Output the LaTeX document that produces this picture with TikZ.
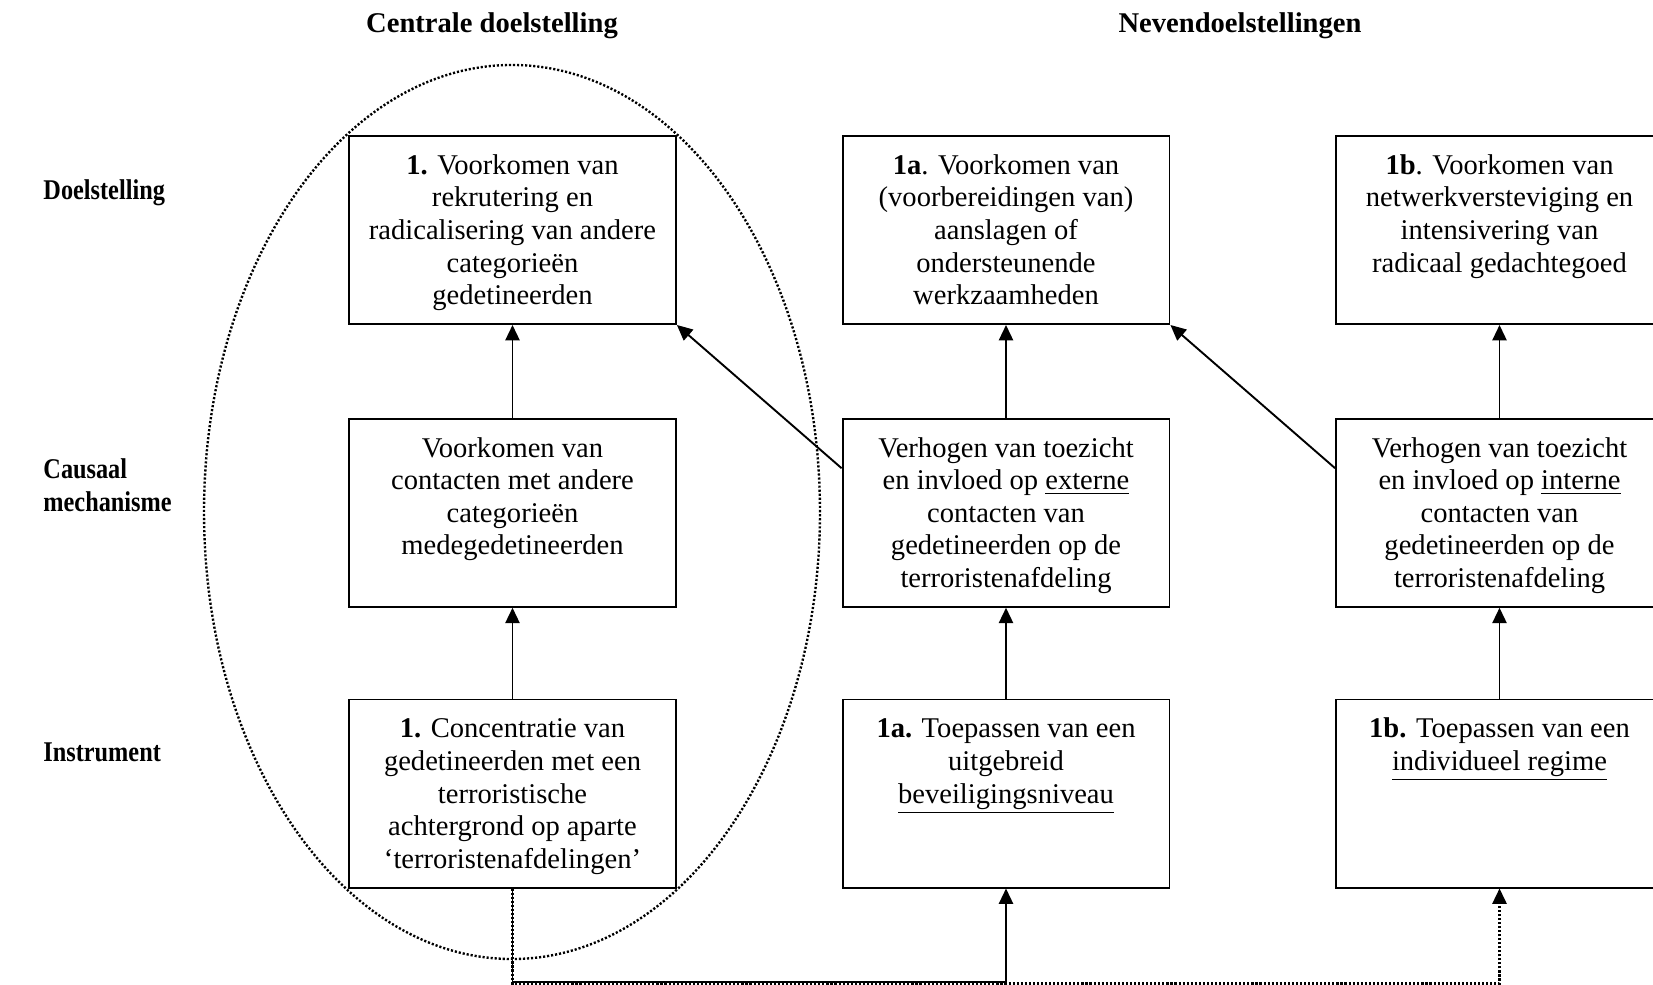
\documentclass[tikz,border=0pt]{standalone}
\usepackage{fontspec}
\setmainfont{Liberation Serif}
\newfontfamily\lblfont{Liberation Serif}[FakeStretch=0.85]
\usetikzlibrary{arrows.meta,shapes.geometric}
\begin{document}
\begin{tikzpicture}[x=0.42pt,y=-0.42pt,
  every node/.style={font=\fontsize{12}{13.7}\selectfont},
  box/.style={draw,line width=0.8pt,rectangle,minimum width=137.3pt,minimum height=79pt,inner sep=0pt},
  txt/.style={align=center,inner sep=0pt,anchor=north},
  lbl/.style={anchor=west,inner sep=0pt,font=\fontsize{12}{13.7}\selectfont\lblfont\bfseries},
  hdr/.style={anchor=base,inner sep=0pt,font=\fontsize{12}{13.7}\selectfont\bfseries},
  arr/.style={line width=0.8pt,-{Triangle[length=6.5pt,width=6pt]}},
  dots/.style={dash pattern=on 0.9pt off 0.8pt},
]
\useasboundingbox (0,0) rectangle (1653,985);
\clip (0,0) rectangle (1653,985);

% headers
\node[hdr] (h1) at (492,33) {Centrale doelstelling};
\node[hdr] (h2) at (1240,33) {Nevendoelstellingen};

% row labels
\node[lbl] (r1) at (43,193) {Doelstelling};
\node[lbl,align=left] (r2) at (43,485) {Causaal\\mechanisme};
\node[lbl] (r3) at (43,752) {Instrument};

% ellipse
\node[ellipse,draw,line width=1pt,dots,minimum width=258.7pt,minimum height=375.5pt,inner sep=0pt] (ell) at (512,512) {};

% boxes
\node[box] (b11) at (512.5,230) {};
\node[box] (b12) at (512.5,512.75) {};
\node[box] (b13) at (512.5,793.5) {};
\node[box] (b21) at (1006,230) {};
\node[box] (b22) at (1006,512.75) {};
\node[box] (b23) at (1006,793.5) {};
\node[box] (b31) at (1499.5,230) {};
\node[box] (b32) at (1499.5,512.75) {};
\node[box] (b33) at (1499.5,793.5) {};

% texts
\node[txt] (t11) at ([yshift=-6.7pt]b11.north) {\strut\textbf{1.} Voorkomen van\\rekrutering en\\radicalisering van andere\\categorieën\\gedetineerden};
\node[txt] (t12) at ([yshift=-6.7pt]b12.north) {\strut Voorkomen van\\contacten met andere\\categorieën\\medegedetineerden};
\node[txt] (t13) at ([yshift=-6.7pt]b13.north) {\strut\textbf{1.} Concentratie van\\gedetineerden met een\\terroristische\\achtergrond op aparte\\‘terroristenafdelingen’};
\node[txt] (t21) at ([yshift=-6.7pt]b21.north) {\strut\textbf{1a}. Voorkomen van\\(voorbereidingen van)\\aanslagen of\\ondersteunende\\werkzaamheden};
\node[txt] (t22) at ([yshift=-6.7pt]b22.north) {\strut Verhogen van toezicht\\en invloed op \underline{externe}\\contacten van\\gedetineerden op de\\terroristenafdeling};
\node[txt] (t23) at ([yshift=-6.7pt]b23.north) {\strut\textbf{1a.} Toepassen van een\\uitgebreid\\\underline{beveiligingsniveau}};
\node[txt] (t31) at ([yshift=-6.7pt]b31.north) {\strut\textbf{1b}. Voorkomen van\\netwerkversteviging en\\intensivering van\\radicaal gedachtegoed};
\node[txt] (t32) at ([yshift=-6.7pt]b32.north) {\strut Verhogen van toezicht\\en invloed op \underline{interne}\\contacten van\\gedetineerden op de\\terroristenafdeling};
\node[txt] (t33) at ([yshift=-6.7pt]b33.north) {\strut\textbf{1b.} Toepassen van een\\\underline{individueel regime}};

% vertical arrows
\draw[arr] (b12) -- (b11);
\draw[arr] (b13) -- (b12);
\draw[arr] (b22) -- (b21);
\draw[arr] (b23) -- (b22);
\draw[arr] (b32) -- (b31);
\draw[arr] (b33) -- (b32);

% diagonal arrows
\draw[arr] ([yshift=-21.2pt]b22.north west) -- (b11.south east);
\draw[arr] ([yshift=-21.2pt]b32.north west) -- (b21.south east);

% bottom connectors
\coordinate (yb) at (0,982);
\draw[arr] (b13.south) -- (b13.south |- yb) -- (b23.south |- yb) -- (b23.south);
\draw[arr,dots,line width=0.9pt] (b13.south) -- ([yshift=-0.6pt]b13.south |- yb) -- ([yshift=-0.6pt]b33.south |- yb) -- (b33.south);
\end{tikzpicture}
\end{document}
